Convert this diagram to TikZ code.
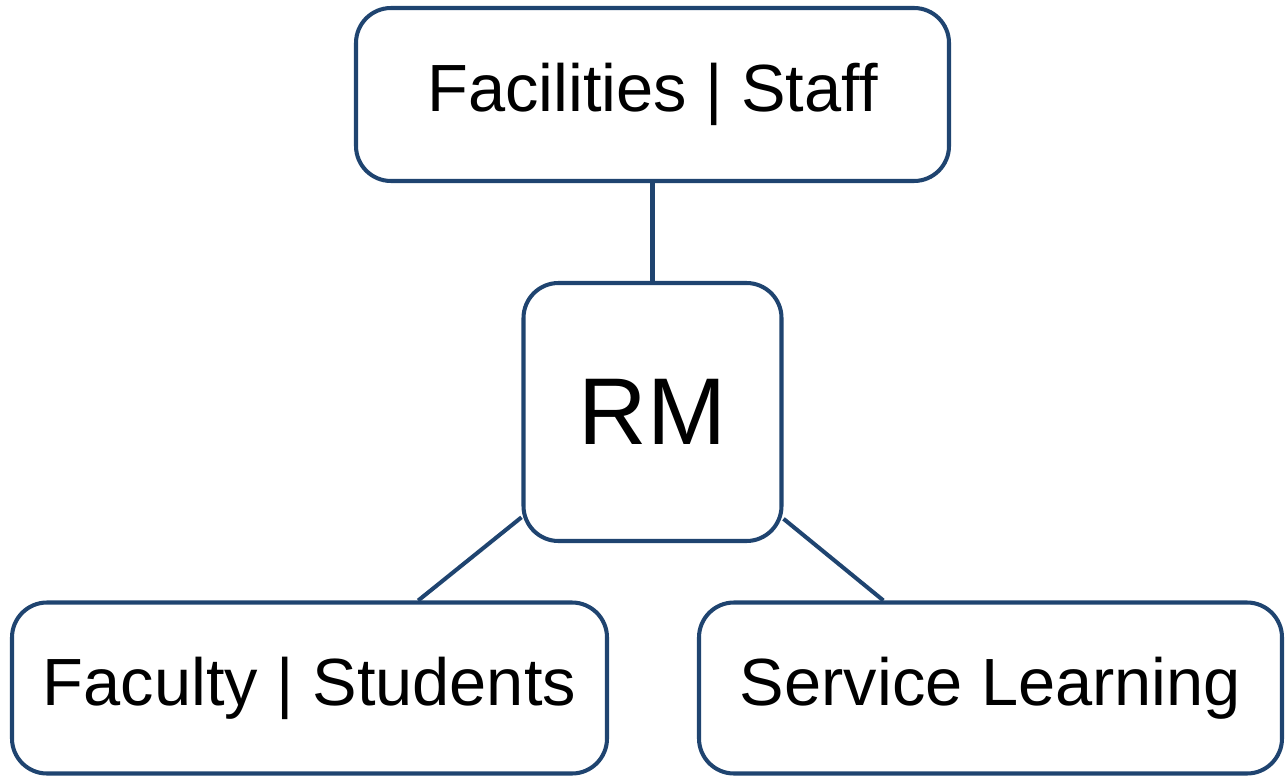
\documentclass[tikz,border=0pt]{standalone}
\usepackage{fontspec}
\setmainfont{Liberation Sans}
\usepackage[dvipsnames]{xcolor}
\definecolor{RMcolor}{HTML}{1F4470}
\usepackage{tikz}
\usetikzlibrary{math}

\begin{document}
\begin{tikzpicture}[x=0.02cm, y=-0.02cm,
    rmbox/.style={draw=RMcolor, line width=2.3pt, rounded corners=0.7cm, fill=white, inner sep=0pt},
    rmlink/.style={draw=RMcolor, line width=2.3pt}]
    \tikzmath{%
        \px=0.02;
        \wstaff=593;
        \hlow=171;
        \wrm=258;
    };

    \useasboundingbox (0, 0) rectangle (1285, 777);

    \node [rmbox, minimum width={\wstaff*\px cm}, minimum height={173*\px cm}] (staff) at (652.5, 94.5)
        {\fontsize{38pt}{38pt}\selectfont Facilities | Staff};
    \node [rmbox, minimum width={\wrm*\px cm}, minimum height={\wrm*\px cm}] (rm) at (652.5, 412)
        {\fontsize{54pt}{54pt}\selectfont RM};
    \node [rmbox, minimum width={595*\px cm}, minimum height={\hlow*\px cm}] (faculty) at (309.5, 688)
        {\fontsize{38pt}{38pt}\selectfont Faculty | Students};
    \node [rmbox, minimum width={583*\px cm}, minimum height={\hlow*\px cm}] (service) at (990.5, 688)
        {\fontsize{38pt}{38pt}\selectfont Service Learning};

    % links
    \draw [rmlink] (staff) -- (rm);
    \draw [rmlink] (rm) -- (faculty);
    \draw [rmlink] (rm) -- (service);

\end{tikzpicture}
\end{document}
